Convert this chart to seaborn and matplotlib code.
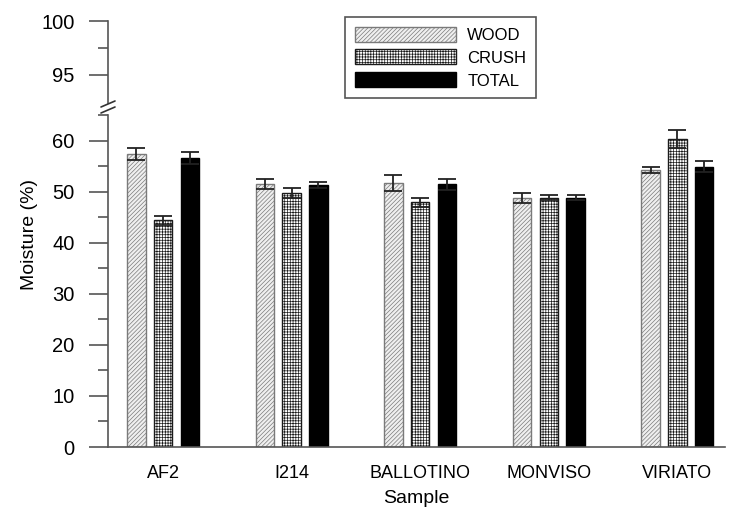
import matplotlib
matplotlib.use("Agg")
import matplotlib.pyplot as plt
import matplotlib.ticker as mticker
from matplotlib.patches import Patch
import pandas as pd
import seaborn as sns

# Moisture data per sample (mean and error)
samples = ['AF2', 'I214', 'BALLOTINO', 'MONVISO', 'VIRIATO']
fractions = ['WOOD', 'CRUSH', 'TOTAL']
wood = [57.4, 51.5, 51.7, 48.8, 54.2]
crush = [44.4, 49.7, 47.9, 48.8, 60.3]
total = [56.6, 51.3, 51.4, 48.8, 54.9]
wood_err = [1.2, 1.0, 1.5, 1.0, 0.6]
crush_err = [0.9, 1.0, 0.9, 0.5, 1.7]
total_err = [1.2, 0.5, 1.0, 0.5, 1.1]

df = pd.DataFrame({
    'Sample': samples * 3,
    'Fraction': ['WOOD'] * 5 + ['CRUSH'] * 5 + ['TOTAL'] * 5,
    'Moisture': wood + crush + total,
    'err': wood_err + crush_err + total_err,
})

sns.set_style('ticks')
plt.rcParams['font.family'] = ['Liberation Sans', 'DejaVu Sans']
plt.rcParams['hatch.linewidth'] = 0.5
plt.rcParams['text.color'] = 'black'
plt.rcParams['axes.labelcolor'] = 'black'
plt.rcParams['xtick.labelcolor'] = 'black'
plt.rcParams['ytick.labelcolor'] = 'black'

styles = {
    'WOOD': dict(facecolor='#efefef', edgecolor='#7a7a7a', hatch='////////'),
    'CRUSH': dict(facecolor='white', edgecolor='#1a1a1a', hatch='++++++'),
    'TOTAL': dict(facecolor='black', edgecolor='black', hatch=None),
}

fig = plt.figure(figsize=(7.37, 5.11), dpi=100)
left, width = 108 / 737, 617 / 737
ax_top = fig.add_axes([left, 1 - 103 / 511, width, 82 / 511])
ax = fig.add_axes([left, 1 - 447 / 511, width, 332 / 511])

sns.barplot(data=df, x='Sample', y='Moisture', hue='Fraction', order=samples,
            hue_order=fractions, errorbar=None, width=0.624, gap=0.31,
            palette=['#efefef', 'white', 'black'], legend=False, ax=ax)

for cont, frac in zip(ax.containers, fractions):
    errs = df[df['Fraction'] == frac]['err'].values
    xs, ys = [], []
    for bar in cont:
        bar.set_facecolor(styles[frac]['facecolor'])
        bar.set_edgecolor(styles[frac]['edgecolor'])
        bar.set_hatch(styles[frac]['hatch'])
        bar.set_linewidth(1)
        xs.append(bar.get_x() + bar.get_width() / 2)
        ys.append(bar.get_height())
    ax.errorbar(xs, ys, yerr=errs, fmt='none', ecolor='#222222',
                elinewidth=1.3, capsize=6.5, capthick=1.3)

spine_c = '#555555'
for a in (ax, ax_top):
    a.set_xlim(-0.428, 4.37)
    for s in ('top', 'right'):
        a.spines[s].set_visible(False)
    a.spines['left'].set_color(spine_c)
    a.spines['left'].set_linewidth(1.2)
    a.tick_params(axis='y', which='major', length=14, width=1.2, color=spine_c,
                  labelsize=14.5, pad=10)
    a.tick_params(axis='y', which='minor', length=7, width=1.2, color=spine_c)

ax.set_ylim(0, 65)
ax.yaxis.set_major_locator(mticker.FixedLocator([0, 10, 20, 30, 40, 50, 60]))
ax.yaxis.set_minor_locator(mticker.MultipleLocator(5))
ax.spines['bottom'].set_color(spine_c)
ax.spines['bottom'].set_linewidth(1.2)
ax.tick_params(axis='x', length=0, labelsize=13, pad=13)
ax.set_xlabel('Sample', fontsize=14, labelpad=6)
ax.set_ylabel('')

ax_top.set_ylim(92.4, 100)
ax_top.yaxis.set_major_locator(mticker.FixedLocator([95, 100]))
ax_top.yaxis.set_minor_locator(mticker.FixedLocator([97.5]))
ax_top.spines['bottom'].set_visible(False)
ax_top.set_xticks([])
ax_top.patch.set_alpha(0)

# break marks on the y axis
for yy in (104, 110):
    fig.add_artist(plt.Line2D([(left * 737 - 7) / 737, (left * 737 + 7) / 737],
                              [1 - (yy + 3) / 511, 1 - (yy - 3) / 511],
                              color='#333333', lw=1.2))

fig.text(30 / 737, 1 - 234 / 511, 'Moisture (%)', rotation=90,
         ha='center', va='center', fontsize=14)

handles = [Patch(facecolor=styles[f]['facecolor'], edgecolor=styles[f]['edgecolor'],
                 hatch=styles[f]['hatch'], linewidth=1, label=f) for f in fractions]
leg = fig.legend(handles=handles, loc='upper left',
                 bbox_to_anchor=(345 / 737, 1 - 17 / 511), fontsize=12,
                 handlelength=6.1, handleheight=1.0, labelspacing=0.4,
                 handletextpad=0.66, borderpad=0.58, fancybox=False,
                 framealpha=1, edgecolor='#555555', borderaxespad=0)
leg.get_frame().set_linewidth(1.2)

fig.savefig('out.png', dpi=100)
